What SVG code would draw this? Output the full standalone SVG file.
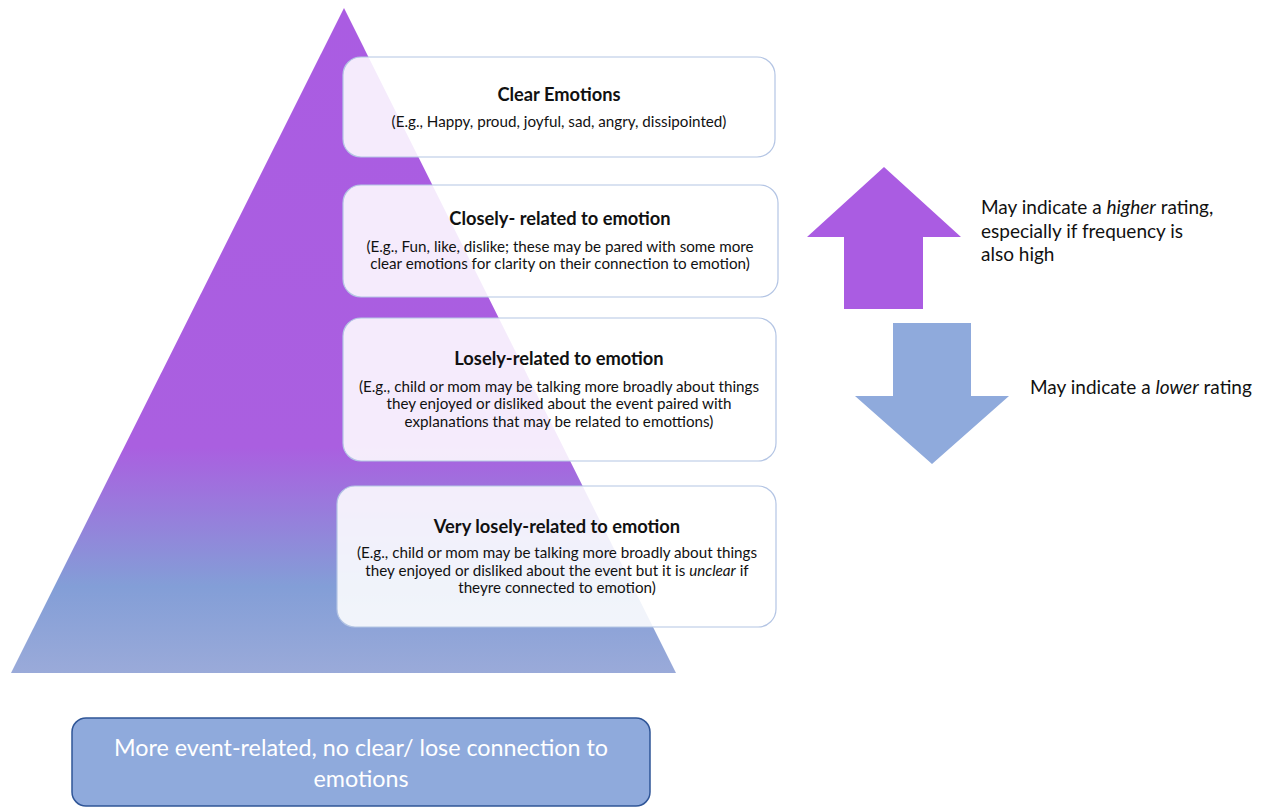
<svg xmlns="http://www.w3.org/2000/svg" width="1269" height="812" viewBox="0 0 1269 812">
<defs>
<linearGradient id="pyr" x1="0" y1="8" x2="0" y2="673" gradientUnits="userSpaceOnUse">
<stop offset="0" stop-color="#aa5ce2"/>
<stop offset="0.66" stop-color="#aa5fe0"/>
<stop offset="0.87" stop-color="#839ed7"/>
<stop offset="1" stop-color="#9aaad9"/>
</linearGradient>
</defs>
<style>
.box{fill:#ffffff;fill-opacity:0.88;stroke:#b4c5e4;stroke-width:1.2}
.t{font-family:Lato,"Open Sans","Liberation Sans",sans-serif;font-size:18.3px;font-weight:bold;fill:#111;text-anchor:middle}
.s{font-family:Lato,"Open Sans","Liberation Sans",sans-serif;font-size:15.2px;fill:#111;text-anchor:middle}
.r{font-family:Lato,"Open Sans","Liberation Sans",sans-serif;font-size:19px;fill:#111}
</style>
<rect width="1269" height="812" fill="#ffffff"/>
<g id="pyramid">
<polygon points="344,8 676,673 11,673" fill="url(#pyr)"/>
</g>
<g id="box1">
<rect class="box" x="343" y="57" width="432" height="100" rx="18"/>
<text class="t" x="559" y="100.5">Clear Emotions</text>
<text class="s" x="559" y="127">(E.g., Happy, proud, joyful, sad, angry, dissipointed)</text>
</g>
<g id="box2">
<rect class="box" x="343" y="185" width="435" height="112" rx="18"/>
<text class="t" x="560" y="225">Closely- related to emotion</text>
<text class="s" x="560" y="252">(E.g., Fun, like, dislike; these may be pared with some more</text>
<text class="s" x="560" y="269">clear emotions for clarity on their connection to emotion)</text>
</g>
<g id="box3">
<rect class="box" x="343" y="318" width="433" height="143" rx="18"/>
<text class="t" x="559" y="364.5">Losely-related to emotion</text>
<text class="s" x="559" y="392">(E.g., child or mom may be talking more broadly about things</text>
<text class="s" x="559" y="409">they enjoyed or disliked about the event paired with</text>
<text class="s" x="559" y="427">explanations that may be related to emottions)</text>
</g>
<g id="box4">
<rect class="box" x="337" y="486" width="439" height="141" rx="18"/>
<text class="t" x="557" y="532.5">Very losely-related to emotion</text>
<text class="s" x="557" y="558">(E.g., child or mom may be talking more broadly about things</text>
<text class="s" x="557" y="576">they enjoyed or disliked about the event but it is <tspan font-style="italic">unclear</tspan> if</text>
<text class="s" x="557" y="593">theyre connected to emotion)</text>
</g>
<g id="up-arrow">
<polygon points="884,167 961,237 923,237 923,309 844,309 844,237 807,237" fill="#aa5ce2"/>
<text class="r" x="981" y="214">May indicate a <tspan font-style="italic">higher</tspan> rating,</text>
<text class="r" x="981" y="238">especially if frequency is</text>
<text class="r" x="981" y="261">also high</text>
</g>
<g id="down-arrow">
<polygon points="893,323 971,323 971,396 1009,396 932,464 855,396 893,396" fill="#8faadc"/>
<text class="r" x="1030" y="394">May indicate a <tspan font-style="italic">lower</tspan> rating</text>
</g>
<g id="bottom-box">
<rect x="72" y="718" width="578" height="88" rx="14" fill="#8faadc" stroke="#2f5597" stroke-width="1.5"/>
<text x="361" y="756" font-family="Lato,'Open Sans','Liberation Sans',sans-serif" font-size="23.3" fill="#ffffff" text-anchor="middle">More event-related, no clear/ lose connection to</text>
<text x="361" y="787" font-family="Lato,'Open Sans','Liberation Sans',sans-serif" font-size="23.3" fill="#ffffff" text-anchor="middle">emotions</text>
</g>
<g id="connectors"></g>
</svg>
